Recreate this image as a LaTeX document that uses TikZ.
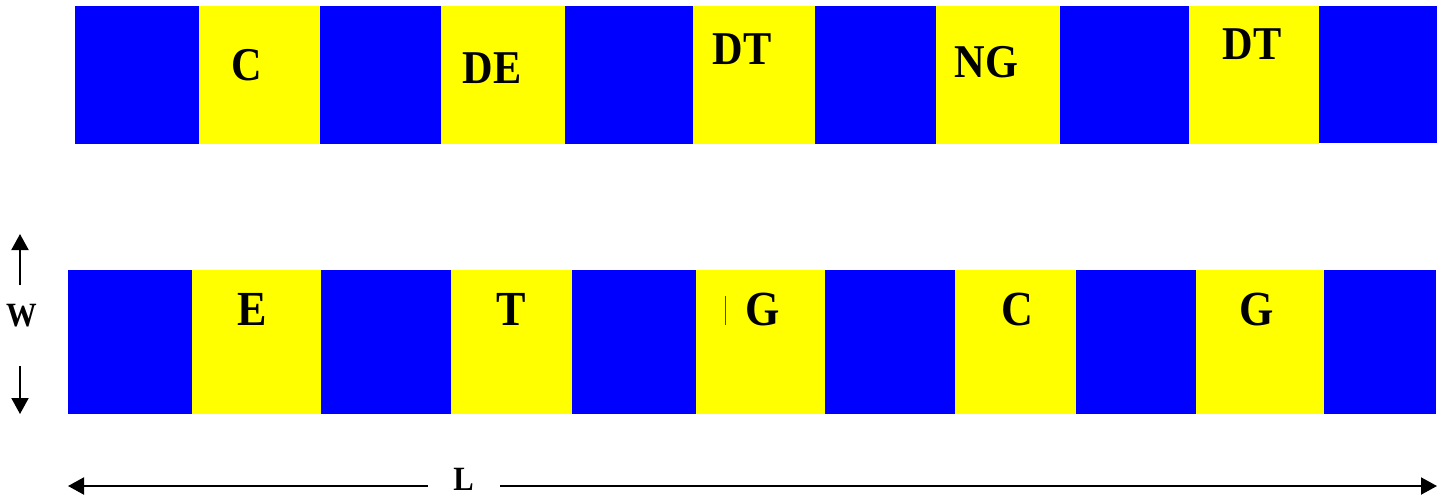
\documentclass[tikz,border=0pt]{standalone}
\usepackage{fontspec}
\setmainfont{Liberation Serif}
\newfontfamily\lblfont[FakeStretch=0.9]{Liberation Serif}
\usetikzlibrary{arrows.meta}
\definecolor{stripblue}{RGB}{0,0,255}
\definecolor{stripyellow}{RGB}{255,255,0}
\tikzset{
  lbltop/.style={anchor=base, inner sep=0pt, font=\lblfont\fontsize{23.5}{26}\selectfont\bfseries},
  lblbot/.style={anchor=base, inner sep=0pt, font=\lblfont\fontsize{24.5}{27}\selectfont\bfseries},
  lbldim/.style={anchor=base, inner sep=0pt, font=\lblfont\fontsize{17}{19}\selectfont\bfseries},
  dimarrow/.style={line width=1pt, -{Triangle[length=8pt,width=8.5pt]}}
}
\begin{document}
\begin{tikzpicture}[x=0.5pt,y=-0.5pt]
\useasboundingbox (0,0) rectangle (1447,495);
% top strip
\foreach \a/\b/\c in {75/199/stripblue,199/320/stripyellow,320/441/stripblue,441/565/stripyellow,565/693/stripblue,693/815/stripyellow,815/936/stripblue,936/1060/stripyellow,1060/1189/stripblue,1189/1319/stripyellow}
  \fill[\c] (\a,6) rectangle (\b,144);
\fill[stripblue] (1319,6) rectangle (1437,142.5);
% bottom strip
\foreach \a/\b/\c in {68/192/stripblue,192/321/stripyellow,321/451/stripblue,451/572/stripyellow,572/696/stripblue,696/825/stripyellow,825/955/stripblue,955/1076/stripyellow,1076/1196/stripblue,1196/1324/stripyellow,1324/1436/stripblue}
  \fill[\c] (\a,270) rectangle (\b,414);
% top labels
\node[lbltop] (t1) at (246.5,80.5) {C};
\node[lbltop] (t2) at (492,83) {DE};
\node[lbltop] (t3) at (742,64) {DT};
\node[lbltop] (t4) at (986.5,77.5) {NG};
\node[lbltop] (t5) at (1252,59) {DT};
% bottom labels
\node[lblbot] (b1) at (252,325) {E};
\node[lblbot] (b2) at (511,325) {T};
\node[lblbot] (b3) at (763,325) {G};
\node[lblbot] (b4) at (1017,325) {C};
\node[lblbot] (b5) at (1257,325) {G};
\draw[line width=0.6pt, black!60!olive] (725.5,296) -- (725.5,325);
% W dimension
\node[lbldim] (w) at (21.5,326) {W};
\coordinate (wup0) at (20,285);
\coordinate (wup1) at (20,234);
\coordinate (wdn0) at (20,366);
\coordinate (wdn1) at (20,414);
\draw[dimarrow] (wup0) -- (wup1);
\draw[dimarrow] (wdn0) -- (wdn1);
% L dimension
\node[lbldim] (l) at (463.5,490.5) {L};
\coordinate (lle0) at (428,486);
\coordinate (lle1) at (68,486);
\coordinate (lri0) at (500,486);
\coordinate (lri1) at (1437,486);
\draw[dimarrow] (lle0) -- (lle1);
\draw[dimarrow] (lri0) -- (lri1);
\end{tikzpicture}
\end{document}
